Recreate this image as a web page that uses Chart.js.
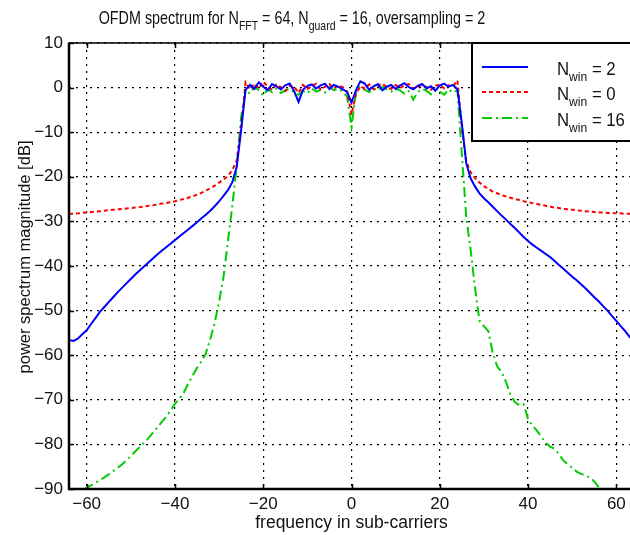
<!DOCTYPE html>
<html>
<head>
<meta charset="utf-8">
<script src="https://cdn.jsdelivr.net/npm/chart.js@4.4.0/dist/chart.umd.min.js"></script>
<style>
html, body { margin: 0; padding: 0; background: #fff; overflow: hidden; }
#wrap { width: 630px; height: 535px; overflow: hidden; }
</style>
</head>
<body>
<div id="wrap"><canvas id="spectrum" width="640" height="535"></canvas></div>
<script>
// sub-carrier index (x axis)
const freq = [
  -64, -63, -62, -61, -60, -59, -58, -57, -56, -55, -54, -53, -52, -51, -50, -49,
  -48, -47, -46, -45, -44, -43, -42, -41, -40, -39, -38, -37, -36, -35, -34, -33,
  -32, -31, -30, -29, -28, -27, -26, -25, -24, -23, -22, -21, -20, -19, -18, -17,
  -16, -15, -14, -13, -12, -11, -10, -9, -8, -7, -6, -5, -4, -3, -2, -1,
  0, 1, 2, 3, 4, 5, 6, 7, 8, 9, 10, 11, 12, 13, 14, 15,
  16, 17, 18, 19, 20, 21, 22, 23, 24, 25, 26, 27, 28, 29, 30, 31,
  32, 33, 34, 35, 36, 37, 38, 39, 40, 41, 42, 43, 44, 45, 46, 47,
  48, 49, 50, 51, 52, 53, 54, 55, 56, 57, 58, 59, 60, 61, 62, 63, 64
];

// N_win = 2 (blue, solid)
const win2 = [
  -56.6, -56.8, -56.3, -55.3, -54.4, -53.0, -51.7, -50.3, -49.2, -48.1, -47.0, -45.9, -44.9, -43.9, -42.9, -41.9,
  -41.0, -40.1, -39.2, -38.3, -37.4, -36.6, -35.8, -35.0, -34.2, -33.4, -32.6, -31.8, -31.0, -30.2, -29.3, -28.5,
  -27.6, -26.6, -25.5, -24.3, -23.0, -21.2, -17.8, -9.5,
  -0.5, 0.6, -0.3, 1.2, 0.2, -0.6, 0.8, 0.3, -0.4, 0.5, 0.9, -0.8,
  -3.2, -0.5, 0.4, 0.7, -0.2, 0.5, 0.9, -0.3, 0.6, 0.2, -0.4, -0.9,
  -3.4,
  -0.6, 1.4, 0.9, -0.5, 0.3, 0.8, -0.6, 0.2, 0.6, -0.3, 0.5, 1.0,
  0.1, -0.4, 0.4, 0.8, -0.2, 0.3, -0.7, 0.5, 0.9, 0.2, 0.6, -0.4,
  -8.0, -17.0, -20.4, -22.2, -23.7, -24.8, -25.7, -26.7, -27.7, -28.7,
  -29.6, -30.6, -31.5, -32.5, -33.5, -34.4, -35.2, -35.9, -36.6, -37.3,
  -38.0, -38.9, -39.8, -40.6, -41.5, -42.4, -43.2, -44.1, -45.0, -46.0,
  -47.0, -47.9, -49.0, -50.0, -51.2, -52.3, -53.5, -54.6, -55.9, -57.0
];

// N_win = 0 (red, dashed)
const win0 = [
  -28.3, -28.3, -28.2, -28.1, -28.0, -27.9, -27.8, -27.7, -27.6, -27.5,
  -27.4, -27.3, -27.2, -27.1, -27.0, -26.9, -26.8, -26.7, -26.5, -26.4,
  -26.2, -26.0, -25.9, -25.7, -25.5, -25.2, -25.0, -24.7, -24.4, -24.0,
  -23.6, -23.1, -22.6, -22.0, -21.3, -20.6, -19.8, -18.5, -16.3, -9.0,
  1.2, -0.4, 0.9, -0.2, 1.3, 0.3, -0.5, 0.7, 0.1, -0.8, 0.4, 0.2,
  -1.2, 0.6, -0.3, 0.3, 0.9, -0.4, 0.2, 0.8, -0.2, 0.5, 0.1, -1.0,
  -6.0,
  -1.5, 0.3, -0.2, 0.7, -0.4, 0.4, 0.9, 0.0, -0.3, 0.6, -0.1, 0.5,
  0.8, -0.3, 0.2, 0.6, 0.1, -0.5, 0.4, 0.7, -0.2, 0.5, 0.3, 1.6,
  -9.0, -16.5, -19.0, -20.3, -21.3, -22.1, -22.7, -23.3, -23.7, -24.1,
  -24.4, -24.7, -25.0, -25.2, -25.5, -25.7, -25.9, -26.1, -26.3, -26.5,
  -26.7, -26.9, -27.0, -27.2, -27.3, -27.4, -27.5, -27.6, -27.7, -27.8,
  -27.9, -28.0, -28.0, -28.1, -28.1, -28.2, -28.2, -28.3, -28.3, -28.3
];

// N_win = 16 (green, dash-dot)
const win16 = [
  -93.0, -92.2, -91.3, -90.5, -89.7, -89.2, -88.6, -88.0, -87.4, -86.7,
  -86.0, -85.3, -84.5, -83.6, -82.6, -81.6, -80.6, -79.6, -78.6, -77.4,
  -76.2, -75.0, -73.8, -72.4, -70.9, -69.8, -68.4, -66.4, -64.6, -62.8,
  -61.4, -59.6, -56.4, -52.8, -48.0, -42.5, -34.5, -26.5, -17.5, -6.5,
  -0.8, -1.3, 0.2, -0.6, -1.8, -0.4, -1.0, -0.2, -1.2, -0.6, -0.3, -1.1,
  -1.6, -0.7, -1.3, -0.2, -0.9, -0.5, -1.1, 0.1, -0.6, -0.3, -0.9, -2.0,
  -8.8,
  -1.2, 0.4, -0.5, -1.0, -0.2, -0.7, 0.2, -0.4, -0.9, -0.3, -0.6, -1.4,
  -0.8, -2.7, -1.0, -0.3, -0.7, -1.5, -0.5, -0.9, -1.6, -0.4, -1.1, -0.6,
  -15.0, -29.0, -36.5, -45.0, -52.3, -53.5, -54.6, -59.5, -62.5, -63.8,
  -66.0, -68.8, -70.5, -71.2, -71.0, -74.3, -75.8, -76.9, -78.3, -79.6,
  -80.5, -81.0, -82.2, -83.6, -84.5, -85.2, -86.1, -86.6, -87.0, -87.4,
  -88.3, -89.6, -90.8, -91.8, -92.5, -93.2, -94.0, -94.7, -95.3, -96.0
];

const winSizes = [2, 0, 16];
const xTicks = [-60, -40, -20, 0, 20, 40, 60];
const yTicks = [10, 0, -10, -20, -30, -40, -50, -60, -70, -80, -90];

const FONT = '"Liberation Sans", Arial, Helvetica, sans-serif';

// draws text with subscript pieces, squeezed horizontally by k
function drawRich(ctx, parts, x, y, size, subSize, k, center) {
  let total = 0;
  parts.forEach(p => {
    ctx.font = (p[1] ? subSize : size) + 'px ' + FONT;
    total += ctx.measureText(p[0]).width;
  });
  ctx.save();
  ctx.translate(center ? x - total * k / 2 : x, y);
  ctx.scale(k, 1);
  let cx = 0;
  parts.forEach(p => {
    ctx.font = (p[1] ? subSize : size) + 'px ' + FONT;
    ctx.fillText(p[0], cx, p[1] ? size * 0.33 : 0);
    cx += ctx.measureText(p[0]).width;
  });
  ctx.restore();
}

const decorations = {
  id: 'decorations',
  afterDraw(chart) {
    const ctx = chart.ctx;
    const { left, right, top, bottom } = chart.chartArea;
    const xs = chart.scales.x, ys = chart.scales.y;

    ctx.save();
    ctx.strokeStyle = '#000';
    // inward ticks
    ctx.lineWidth = 1.5;
    xTicks.forEach(v => {
      const px = Math.round(xs.getPixelForValue(v)) + 0.5;
      ctx.beginPath();
      ctx.moveTo(px, bottom); ctx.lineTo(px, bottom - 5);
      ctx.moveTo(px, top); ctx.lineTo(px, top + 5);
      ctx.stroke();
    });
    yTicks.forEach(v => {
      const py = Math.round(ys.getPixelForValue(v)) + 0.5;
      ctx.beginPath();
      ctx.moveTo(left, py); ctx.lineTo(left + 5, py);
      ctx.stroke();
    });
    // axes box
    ctx.lineWidth = 1.5;
    ctx.beginPath();
    ctx.moveTo(left, top); ctx.lineTo(right, top);
    ctx.lineTo(right, bottom);
    ctx.stroke();
    ctx.lineWidth = 2.5;
    ctx.beginPath();
    ctx.moveTo(left, top - 0.5); ctx.lineTo(left, bottom); ctx.lineTo(right, bottom);
    ctx.stroke();

    // legend box
    const lx = 472, lt = top, lb = 141;
    ctx.fillStyle = '#fff';
    ctx.fillRect(lx, lt, 200, lb - lt);
    ctx.lineWidth = 2;
    ctx.strokeRect(lx, lt, 200, lb - lt);
    const rows = [67, 92, 118];
    chart.data.datasets.forEach((ds, i) => {
      ctx.strokeStyle = ds.borderColor;
      ctx.lineWidth = ds.borderWidth;
      ctx.setLineDash(ds.borderDash || []);
      ctx.beginPath();
      ctx.moveTo(482, rows[i]); ctx.lineTo(528, rows[i]);
      ctx.stroke();
      ctx.setLineDash([]);
      ctx.fillStyle = '#111';
      ctx.textBaseline = 'alphabetic';
      drawRich(ctx, [['N', false], ['win', true], [' = ' + winSizes[i], false]], 557, rows[i] + 8, 18, 13, 0.93, false);
    });

    // title
    ctx.fillStyle = '#111';
    ctx.textBaseline = 'alphabetic';
    drawRich(ctx, [['OFDM spectrum for N', false], ['FFT', true], [' = 64, N', false],
      ['guard', true], [' = 16, oversampling = 2', false]], 292, 24, 18.5, 13.5, 0.775, true);

    // axis titles
    ctx.textAlign = 'center';
    ctx.font = '17.5px ' + FONT;
    ctx.fillText('frequency in sub-carriers', (left + right) / 2, 528);
    ctx.translate(30, 257);
    ctx.rotate(-Math.PI / 2);
    ctx.font = '16.5px ' + FONT;
    ctx.fillText('power spectrum magnitude [dB]', 0, 0);
    ctx.restore();
  }
};

const minus = v => String(v).replace('-', '\u2212');

new Chart(document.getElementById('spectrum').getContext('2d'), {
  type: 'line',
  data: {
    labels: freq,
    datasets: [
      { label: 'N_win = 2', data: win2, borderColor: '#0000ff', borderWidth: 2 },
      { label: 'N_win = 0', data: win0, borderColor: '#ff0000', borderWidth: 2, borderDash: [4, 3] },
      { label: 'N_win = 16', data: win16, borderColor: '#00cc00', borderWidth: 2, borderDash: [10, 4, 2, 4] }
    ]
  },
  options: {
    responsive: false,
    animation: false,
    layout: { padding: { top: 43, right: 6, left: 0, bottom: 0 } },
    elements: { point: { radius: 0 }, line: { tension: 0 } },
    plugins: {
      legend: { display: false },
      title: { display: false },
      tooltip: { enabled: false }
    },
    scales: {
      x: {
        type: 'linear',
        min: -64,
        max: 64,
        afterBuildTicks: s => { s.ticks = xTicks.map(v => ({ value: v })); },
        afterFit: s => { s.height = 46; },
        grid: { color: '#000', lineWidth: 1.2, drawTicks: false },
        border: { display: false, dash: [2, 5] },
        ticks: { padding: 5, color: '#111', font: { family: FONT, size: 17 }, callback: minus }
      },
      y: {
        min: -90,
        max: 10,
        afterBuildTicks: s => { s.ticks = yTicks.map(v => ({ value: v })); },
        afterFit: s => { s.width = 69; },
        grid: { color: '#000', lineWidth: 1.2, drawTicks: false },
        border: { display: false, dash: [2, 5] },
        ticks: { padding: 6, color: '#111', font: { family: FONT, size: 17 }, callback: minus }
      }
    }
  },
  plugins: [decorations]
});
</script>
</body>
</html>
